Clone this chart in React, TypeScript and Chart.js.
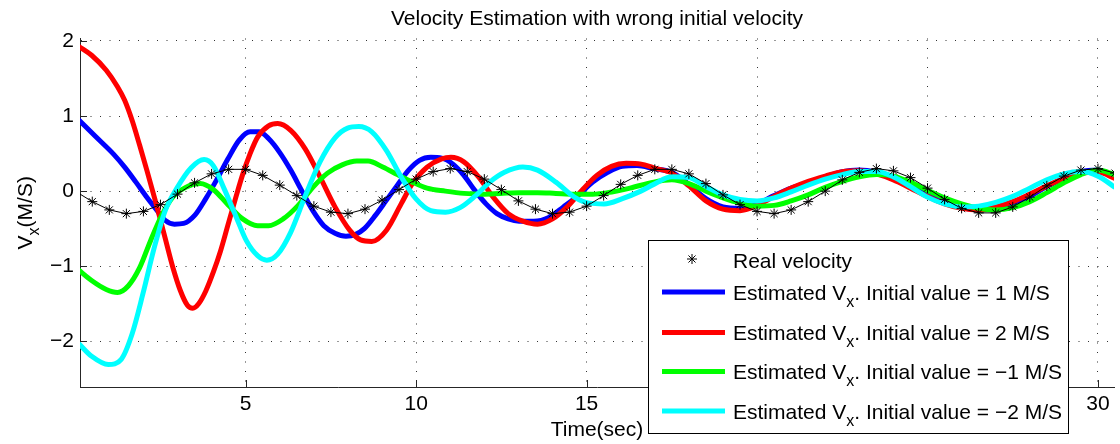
import React, { useEffect, useRef } from 'react';
import { Chart, registerables } from 'chart.js';

Chart.register(...registerables);

// ---------------- data ----------------
const realTime = [0, 0.5, 1, 1.5, 2, 2.5, 3, 3.5, 4, 4.5, 5, 5.5, 6, 6.5, 7, 7.5, 8, 8.5, 9, 9.5, 10, 10.5, 11, 11.5, 12, 12.5, 13, 13.5, 14, 14.5, 15, 15.5, 16, 16.5, 17, 17.5, 18, 18.5, 19, 19.5, 20, 20.5, 21, 21.5, 22, 22.5, 23, 23.5, 24, 24.5, 25, 25.5, 26, 26.5, 27, 27.5, 28, 28.5, 29, 29.5, 30, 30.5];
const realVelocity = [0, -0.14, -0.25, -0.3, -0.27, -0.18, -0.04, 0.11, 0.23, 0.29, 0.29, 0.21, 0.08, -0.06, -0.2, -0.28, -0.3, -0.24, -0.12, 0.02, 0.16, 0.26, 0.3, 0.26, 0.16, 0.02, -0.13, -0.24, -0.3, -0.28, -0.2, -0.06, 0.09, 0.21, 0.29, 0.29, 0.23, 0.1, -0.05, -0.18, -0.27, -0.3, -0.25, -0.14, 0.0, 0.15, 0.25, 0.3, 0.27, 0.18, 0.04, -0.11, -0.23, -0.29, -0.29, -0.21, -0.08, 0.07, 0.2, 0.28, 0.3, 0.24];

const est1Time = [0.1, 0.59, 1.13, 1.45, 1.78, 2.1, 2.32, 2.64, 2.91, 3.18, 3.51, 3.83, 4.16, 4.48, 4.81, 5.13, 5.4, 5.67, 5.99, 6.32, 6.64, 6.97, 7.29, 7.62, 7.94, 8.21, 8.48, 8.81, 9.13, 9.45, 9.78, 10.1, 10.43, 10.75, 11.08, 11.4, 11.72, 12.05, 12.37, 12.7, 13.02, 13.45, 13.89, 14.32, 14.75, 15.18, 15.62, 16.05, 16.48, 16.97, 17.5, 18, 18.5, 19, 19.5, 20, 20.5, 21, 21.5, 22, 22.5, 23, 23.5, 24, 24.5, 25, 25.5, 26, 26.5, 27, 27.5, 28, 28.5, 29, 29.5, 30, 30.5];
const est1Values = [0.95, 0.73, 0.49, 0.32, 0.12, -0.08, -0.21, -0.39, -0.44, -0.43, -0.32, -0.1, 0.16, 0.43, 0.68, 0.79, 0.79, 0.7, 0.52, 0.28, 0.01, -0.26, -0.46, -0.56, -0.6, -0.58, -0.5, -0.32, -0.12, 0.08, 0.28, 0.41, 0.45, 0.44, 0.36, 0.21, 0.01, -0.17, -0.3, -0.37, -0.4, -0.4, -0.35, -0.21, -0.06, 0.12, 0.25, 0.33, 0.34, 0.3, 0.25, 0.09, -0.1, -0.21, -0.23, -0.17, -0.06, 0.04, 0.11, 0.19, 0.26, 0.28, 0.25, 0.18, 0.08, -0.04, -0.15, -0.22, -0.25, -0.23, -0.17, -0.07, 0.06, 0.17, 0.26, 0.28, 0.2];

const est2Time = [0.1, 0.48, 0.91, 1.24, 1.45, 1.67, 1.89, 2.1, 2.32, 2.48, 2.64, 2.86, 3.08, 3.29, 3.45, 3.62, 3.83, 4.05, 4.26, 4.48, 4.7, 4.91, 5.13, 5.35, 5.67, 5.94, 6.32, 6.75, 7.18, 7.62, 8.05, 8.37, 8.7, 9.13, 9.56, 9.89, 10.32, 10.75, 11.02, 11.4, 11.83, 12.26, 12.7, 13.13, 13.56, 14.0, 14.43, 14.86, 15.3, 15.73, 16.16, 16.6, 16.97, 17.5, 18, 18.5, 19, 19.5, 20, 20.5, 21, 21.5, 22, 22.5, 23, 23.5, 24, 24.5, 25, 25.5, 26, 26.5, 27, 27.5, 28, 28.5, 29, 29.5, 30, 30.5];
const est2Values = [1.93, 1.81, 1.61, 1.39, 1.21, 0.94, 0.61, 0.28, -0.08, -0.35, -0.63, -1.01, -1.32, -1.52, -1.56, -1.5, -1.33, -1.08, -0.8, -0.45, -0.1, 0.22, 0.5, 0.72, 0.87, 0.9, 0.81, 0.56, 0.19, -0.21, -0.52, -0.65, -0.67, -0.52, -0.17, 0.1, 0.32, 0.43, 0.45, 0.39, 0.19, -0.08, -0.3, -0.4, -0.44, -0.37, -0.21, 0.01, 0.21, 0.33, 0.37, 0.36, 0.31, 0.24, 0.07, -0.13, -0.24, -0.26, -0.19, -0.07, 0.04, 0.13, 0.2, 0.26, 0.27, 0.23, 0.15, 0.04, -0.07, -0.17, -0.23, -0.25, -0.21, -0.14, -0.04, 0.07, 0.17, 0.24, 0.25, 0.17];

const est3Time = [0.1, 0.48, 0.91, 1.24, 1.56, 1.89, 2.21, 2.54, 2.86, 3.24, 3.67, 4.05, 4.48, 4.91, 5.35, 5.67, 6.1, 6.54, 6.97, 7.4, 7.83, 8.26, 8.59, 9.02, 9.45, 9.89, 10.32, 10.86, 11.4, 11.94, 12.48, 13.02, 13.56, 14.1, 14.64, 15.18, 15.62, 16.27, 16.97, 17.5, 18, 18.5, 19, 19.5, 20, 20.5, 21, 21.5, 22, 22.5, 23, 23.5, 24, 24.5, 25, 25.5, 26, 26.5, 27, 27.5, 28, 28.5, 29, 29.5, 30, 30.5];
const est3Values = [-1.05, -1.19, -1.31, -1.35, -1.26, -1.02, -0.66, -0.32, -0.08, 0.05, 0.1, 0.02, -0.18, -0.37, -0.46, -0.46, -0.37, -0.19, 0.05, 0.24, 0.35, 0.4, 0.4, 0.32, 0.22, 0.12, 0.04, 0.0, -0.03, -0.04, -0.03, -0.02, -0.02, -0.03, -0.04, -0.04, -0.02, 0.04, 0.12, 0.15, 0.1, 0.0, -0.09, -0.16, -0.2, -0.19, -0.13, -0.05, 0.05, 0.13, 0.19, 0.22, 0.2, 0.12, 0.01, -0.09, -0.17, -0.23, -0.25, -0.22, -0.14, -0.02, 0.11, 0.22, 0.28, 0.22];

const est4Time = [0.1, 0.48, 0.97, 1.35, 1.67, 1.99, 2.32, 2.64, 2.97, 3.4, 3.78, 4.05, 4.37, 4.7, 5.02, 5.35, 5.62, 5.94, 6.32, 6.75, 7.18, 7.62, 7.99, 8.32, 8.7, 9.13, 9.56, 9.99, 10.43, 10.86, 11.29, 11.72, 12.16, 12.59, 13.13, 13.56, 14.1, 14.64, 15.08, 15.51, 16.05, 16.59, 16.97, 17.5, 18, 18.5, 19, 19.5, 20, 20.5, 21, 21.5, 22, 22.5, 23, 23.5, 24, 24.5, 25, 25.5, 26, 26.5, 27, 27.5, 28, 28.5, 29, 29.5, 30, 30.5];
const est4Values = [-2.03, -2.2, -2.31, -2.24, -1.9, -1.36, -0.75, -0.26, 0.03, 0.31, 0.42, 0.34, 0.03, -0.32, -0.66, -0.86, -0.92, -0.84, -0.55, -0.06, 0.39, 0.71, 0.84, 0.86, 0.79, 0.54, 0.19, -0.1, -0.26, -0.28, -0.22, -0.07, 0.12, 0.25, 0.32, 0.28, 0.12, -0.08, -0.16, -0.17, -0.1, 0.0, 0.09, 0.19, 0.18, 0.06, -0.05, -0.11, -0.13, -0.09, -0.01, 0.08, 0.16, 0.22, 0.26, 0.26, 0.19, 0.06, -0.08, -0.17, -0.21, -0.2, -0.15, -0.07, 0.04, 0.15, 0.23, 0.26, 0.2, 0.05];

const xTickValues = [5, 10, 15, 20, 25, 30];
const yTickValues = [-2, -1, 0, 1, 2];

const chartTitle = 'Velocity Estimation with wrong initial velocity';
const xAxisTitle = 'Time(sec)';
const yAxisTitleParts = ['V', 'x', '(M/S)'];
const realLabel = 'Real velocity';
const estLabelPrefix = 'Estimated V';
const estLabelSub = 'x';
const estLabelSuffixes = ['. Initial value = 1 M/S', '. Initial value = 2 M/S', '. Initial value = \u22121 M/S', '. Initial value = \u22122 M/S'];
const estColors = ['#0000ff', '#ff0000', '#00ff00', '#00ffff'];

// ---------------- drawing ----------------
const FONT = "'Liberation Sans', Arial, Helvetica, sans-serif";
const AXIS_COLOR = '#262626';

const toPoints = (t: number[], v: number[]) => t.map((x, i) => ({ x, y: v[i] }));

function drawStar(ctx: CanvasRenderingContext2D, x: number, y: number, r: number) {
  ctx.beginPath();
  ctx.moveTo(x - r, y); ctx.lineTo(x + r, y);
  ctx.moveTo(x, y - r); ctx.lineTo(x, y + r);
  const d = r * Math.SQRT1_2;
  ctx.moveTo(x - d, y - d); ctx.lineTo(x + d, y + d);
  ctx.moveTo(x - d, y + d); ctx.lineTo(x + d, y - d);
  ctx.stroke();
}

const decorPlugin = {
  id: 'matlabDecor',
  afterDraw(chart: any) {
    const { ctx, chartArea, scales } = chart;
    const xs = scales.x;
    const ys = scales.y;
    ctx.save();

    // inward tick marks
    ctx.strokeStyle = AXIS_COLOR;
    ctx.lineWidth = 1;
    ctx.beginPath();
    xTickValues.forEach((v) => {
      const px = Math.round(xs.getPixelForValue(v)) + 0.5;
      ctx.moveTo(px, chartArea.bottom);
      ctx.lineTo(px, chartArea.bottom - 7);
    });
    yTickValues.forEach((v) => {
      const py = Math.round(ys.getPixelForValue(v)) + 0.5;
      ctx.moveTo(chartArea.left, py);
      ctx.lineTo(chartArea.left + 7, py);
    });
    ctx.stroke();

    // titles
    const cx = (chartArea.left + chartArea.right) / 2;
    ctx.fillStyle = '#000';
    ctx.font = `21px ${FONT}`;
    ctx.textAlign = 'center';
    ctx.textBaseline = 'alphabetic';
    ctx.fillText(chartTitle, cx, 25);
    ctx.fillText(xAxisTitle, cx, 436);

    // y axis title (rotated, with subscript)
    ctx.textAlign = 'left';
    const yParts = [
      { t: yAxisTitleParts[0], size: 21, dy: 0 },
      { t: yAxisTitleParts[1], size: 16, dy: 7 },
      { t: yAxisTitleParts[2], size: 21, dy: 0 },
    ];
    let total = 0;
    yParts.forEach((p) => { ctx.font = `${p.size}px ${FONT}`; total += ctx.measureText(p.t).width; });
    ctx.save();
    ctx.translate(32, (chartArea.top + chartArea.bottom) / 2 + total / 2);
    ctx.rotate(-Math.PI / 2);
    let ox = 0;
    yParts.forEach((p) => {
      ctx.font = `${p.size}px ${FONT}`;
      ctx.fillText(p.t, ox, p.dy);
      ox += ctx.measureText(p.t).width;
    });
    ctx.restore();

    // legend
    const bx = 648.5, by = 240.5, bw = 420, bh = 193;
    ctx.fillStyle = '#fff';
    ctx.fillRect(bx, by, bw, bh);
    ctx.strokeStyle = '#000';
    ctx.lineWidth = 1;
    ctx.strokeRect(bx, by, bw, bh);

    const textX = 733;
    ctx.strokeStyle = '#000';
    ctx.lineWidth = 1;
    drawStar(ctx, 692, 259, 5);
    ctx.fillStyle = '#000';
    ctx.font = `21px ${FONT}`;
    ctx.fillText(realLabel, textX, 267.5);

    const rowY = [292, 332.5, 371.5, 411];
    estColors.forEach((c, i) => {
      const y = rowY[i];
      ctx.strokeStyle = c;
      ctx.lineWidth = 5;
      ctx.beginPath();
      ctx.moveTo(662, y);
      ctx.lineTo(725, y);
      ctx.stroke();
      const base = y + 7.5;
      ctx.fillStyle = '#000';
      ctx.font = `21px ${FONT}`;
      let tx = textX;
      ctx.fillText(estLabelPrefix, tx, base);
      tx += ctx.measureText(estLabelPrefix).width;
      ctx.font = `16px ${FONT}`;
      ctx.fillText(estLabelSub, tx, base + 7);
      tx += ctx.measureText(estLabelSub).width;
      ctx.font = `21px ${FONT}`;
      ctx.fillText(estLabelSuffixes[i], tx, base);
    });

    ctx.restore();
  },
};

export default function App() {
  const canvasRef = useRef<HTMLCanvasElement | null>(null);

  useEffect(() => {
    const canvas = canvasRef.current;
    if (!canvas) return;
    const lineDs = (data: any, color: string, order: number) => ({
      data,
      borderColor: color,
      backgroundColor: color,
      borderWidth: 5,
      pointRadius: 0,
      fill: false,
      cubicInterpolationMode: 'monotone' as const,
      clip: 0,
      order,
    });
    const chart = new Chart(canvas, {
      type: 'line',
      data: {
        datasets: [
          {
            data: toPoints(realTime, realVelocity),
            borderColor: '#000',
            backgroundColor: 'rgba(0,0,0,0)',
            borderWidth: 1,
            pointStyle: 'star',
            pointRadius: 5,
            pointBorderWidth: 1,
            pointBorderColor: '#000',
            tension: 0,
            fill: false,
            clip: 0,
            order: 0,
          } as any,
          lineDs(toPoints(est4Time, est4Values), estColors[3], 1),
          lineDs(toPoints(est3Time, est3Values), estColors[2], 2),
          lineDs(toPoints(est2Time, est2Values), estColors[1], 3),
          lineDs(toPoints(est1Time, est1Values), estColors[0], 4),
        ],
      },
      options: {
        responsive: false,
        maintainAspectRatio: false,
        animation: false,
        devicePixelRatio: 1,
        layout: { padding: { top: 38.5, left: 0, right: 0, bottom: 0 } },
        plugins: {
          legend: { display: false },
          title: { display: false },
          tooltip: { enabled: false },
        },
        events: [],
        scales: {
          x: {
            type: 'linear',
            min: 0.14,
            max: 30.47,
            afterBuildTicks: (s: any) => { s.ticks = xTickValues.map((value) => ({ value })); },
            afterFit: (s: any) => { s.height = 444 - 387; },
            grid: { color: '#333', lineWidth: 1, drawTicks: false },
            border: { display: true, color: AXIS_COLOR, width: 1, dash: [1, 8.5] },
            ticks: {
              autoSkip: false,
              maxRotation: 0,
              padding: 5,
              color: '#000',
              font: { family: FONT, size: 21 },
            },
          },
          y: {
            type: 'linear',
            min: -2.609,
            max: 2.033,
            afterBuildTicks: (s: any) => { s.ticks = yTickValues.map((value) => ({ value })); },
            afterFit: (s: any) => { s.width = 80; },
            grid: { color: '#333', lineWidth: 1, drawTicks: false },
            border: { display: true, color: AXIS_COLOR, width: 1, dash: [1, 8.5] },
            ticks: {
              autoSkip: false,
              padding: 6,
              color: '#000',
              font: { family: FONT, size: 21 },
              callback: (v: any) => (Number(v) < 0 ? '\u2212' + Math.abs(Number(v)) : String(v)),
            },
          },
        },
      },
      plugins: [decorPlugin],
    });
    return () => chart.destroy();
  }, []);

  return (
    <div style={{ position: 'absolute', left: 0, top: 0, width: 1120, height: 444, background: '#fff', overflow: 'hidden' }}>
      <canvas ref={canvasRef} width={1120} height={444} style={{ display: 'block' }} />
    </div>
  );
}
